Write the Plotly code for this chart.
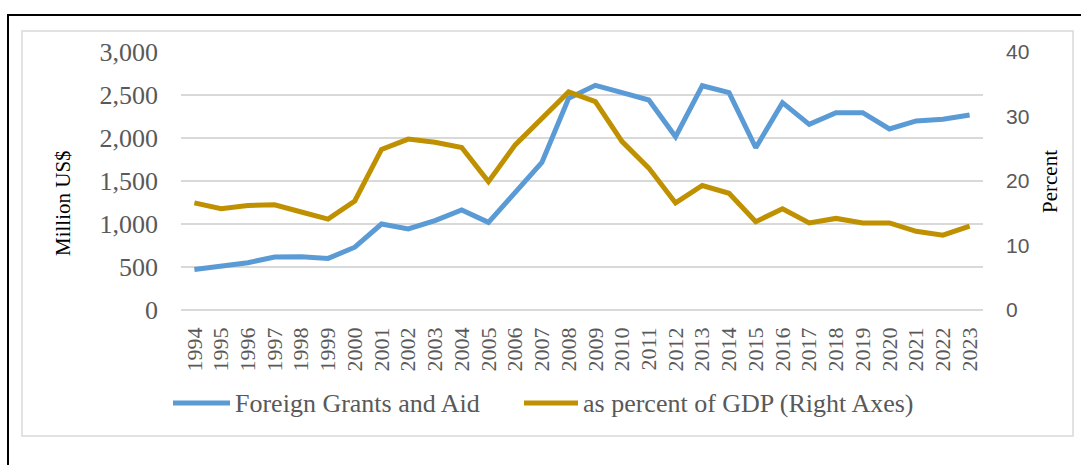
import plotly.graph_objects as go

# Foreign grants and aid, 1994-2023
years = [str(y) for y in range(1994, 2024)]
grants_musd = [470, 515, 550, 615, 620, 600, 730, 1000, 942, 1040, 1163, 1019, 1365, 1717,
               2461, 2612, 2527, 2442, 2015, 2608, 2527, 1887, 2411, 2159, 2295, 2295,
               2105, 2198, 2217, 2267]
grants_pct_gdp = [16.6, 15.7, 16.2, 16.3, 15.2, 14.1, 16.9, 24.9, 26.5, 26.0, 25.2, 19.9,
                  25.6, 29.7, 33.8, 32.3, 26.1, 22.0, 16.6, 19.3, 18.1, 13.7, 15.7, 13.5,
                  14.2, 13.5, 13.5, 12.2, 11.6, 13.0]

left_ticks = [0, 500, 1000, 1500, 2000, 2500, 3000]
right_ticks = [0, 10, 20, 30, 40]

BLUE = "#5B9BD5"
GOLD = "#BF9000"
GRID = "#D9D9D9"
TICK_GRAY = "#595959"
SERIF = "Liberation Serif, Times New Roman, serif"
SANS = "Liberation Sans, Arial, sans-serif"

W, H = 1081, 465
PLOT_L, PLOT_R, PLOT_T, PLOT_B = 181, 983, 52, 310


def px_x(px):
    return (px - PLOT_L) / (PLOT_R - PLOT_L)


def px_y(py):
    return (PLOT_B - py) / (PLOT_B - PLOT_T)


fig = go.Figure()
fig.add_trace(go.Scatter(x=years, y=grants_musd, name="Foreign Grants and Aid",
                         mode="lines", line=dict(color=BLUE, width=5), yaxis="y"))
fig.add_trace(go.Scatter(x=years, y=grants_pct_gdp, name="as percent of GDP (Right Axes)",
                         mode="lines", line=dict(color=GOLD, width=5), yaxis="y2"))

shapes = [
    # outer frame
    dict(type="rect", xref="paper", yref="paper", layer="below",
         x0=px_x(8), x1=px_x(1095), y0=px_y(15), y1=px_y(490),
         line=dict(color="black", width=2)),
    # chart area border
    dict(type="rect", xref="paper", yref="paper", layer="below",
         x0=px_x(22), x1=px_x(1073), y0=px_y(31), y1=px_y(436),
         line=dict(color=GRID, width=1.5)),
]

# legend drawn as line samples with labels
legend_items = [
    (173, 230, 233, BLUE, "Foreign Grants and Aid"),
    (524, 578, 581, GOLD, "as percent of GDP (Right Axes)"),
]
annotations = []
LEG_Y = 403
for x0, x1, tx, col, label in legend_items:
    shapes.append(dict(type="line", xref="paper", yref="paper",
                       x0=px_x(x0), x1=px_x(x1), y0=px_y(LEG_Y), y1=px_y(LEG_Y),
                       line=dict(color=col, width=5)))
    annotations.append(dict(text=label, xref="paper", yref="paper", x=px_x(tx), y=px_y(LEG_Y),
                            xanchor="left", yanchor="middle", showarrow=False,
                            font=dict(family=SERIF, size=26, color=TICK_GRAY)))

# axis titles
annotations.append(dict(text="Million US$", xref="paper", yref="paper", x=px_x(63), y=px_y(203),
                        xanchor="center", yanchor="middle", textangle=-90, showarrow=False,
                        font=dict(family=SERIF, size=21, color="black")))
annotations.append(dict(text="Percent", xref="paper", yref="paper", x=px_x(1050), y=px_y(182),
                        xanchor="center", yanchor="middle", textangle=-90, showarrow=False,
                        font=dict(family=SERIF, size=21, color="black")))

fig.update_layout(
    width=W, height=H,
    margin=dict(l=PLOT_L, r=W - PLOT_R, t=PLOT_T, b=H - PLOT_B, autoexpand=False),
    paper_bgcolor="white", plot_bgcolor="white",
    showlegend=False,
    shapes=shapes,
    annotations=annotations,
    xaxis=dict(type="category", categoryorder="array", categoryarray=years,
               range=[-0.5, len(years) - 0.5], showgrid=False, showline=False, zeroline=False,
               tickangle=-90, ticks="", ticklabelstandoff=12,
               tickfont=dict(family=SERIF, size=22, color=TICK_GRAY)),
    yaxis=dict(range=[0, 3000], tickvals=left_ticks, tickformat=",", showgrid=True,
               gridcolor=GRID, gridwidth=1.5, zeroline=True, zerolinecolor=GRID,
               zerolinewidth=1.5, showline=False, ticks="", ticklabelstandoff=22,
               tickfont=dict(family=SERIF, size=26, color=TICK_GRAY)),
    yaxis2=dict(range=[0, 40], tickvals=right_ticks, overlaying="y", side="right",
                showgrid=False, zeroline=False, showline=False, ticks="",
                ticklabelstandoff=22,
                tickfont=dict(family=SANS, size=21, color=TICK_GRAY)),
)

fig.write_html("out.html")
